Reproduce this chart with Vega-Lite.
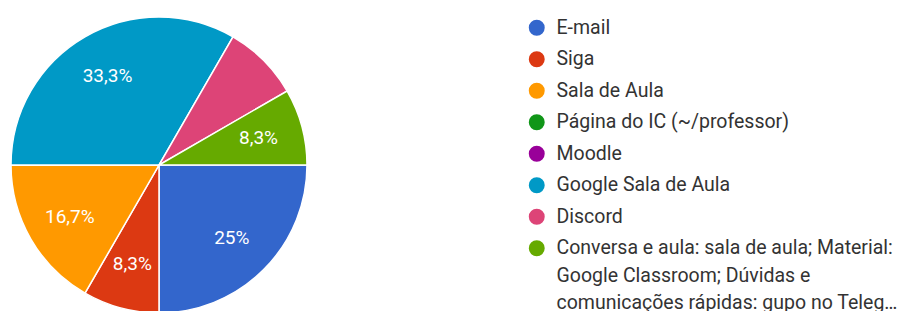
{
  "$schema": "https://vega.github.io/schema/vega-lite/v6.json",
  "width": 296,
  "height": 296,
  "autosize": "none",
  "padding": {"left": 11, "top": 17, "right": 601, "bottom": 0},
  "background": "white",
  "config": {"view": {"stroke": null}, "font": "Roboto", "style": {"guide-label": {"lineHeight": 27.5}}},
  "data": {
    "values": [
      {"cat": "E-mail", "n": 3, "ord": 1, "label": "25%"},
      {"cat": "Siga", "n": 1, "ord": 2, "label": "8,3%"},
      {"cat": "Sala de Aula", "n": 2, "ord": 3, "label": "16,7%"},
      {"cat": "Página do IC (~/professor)", "n": 0, "ord": 4, "label": ""},
      {"cat": "Moodle", "n": 0, "ord": 5, "label": ""},
      {"cat": "Google Sala de Aula", "n": 4, "ord": 6, "label": "33,3%"},
      {"cat": "Discord", "n": 1, "ord": 7, "label": ""},
      {"cat": "Conversa e aula: sala de aula; Material: Google Classroom; Dúvidas e comunicações rápidas: gupo no Teleg…", "n": 1, "ord": 8, "label": "8,3%"}
    ]
  },
  "encoding": {
    "theta": {"field": "n", "type": "quantitative", "stack": true, "scale": {"range": [1.5707963, 7.8539816]}},
    "order": {"field": "ord", "type": "quantitative"}
  },
  "layer": [
    {
      "mark": {"type": "arc", "outerRadius": 148, "stroke": "white", "strokeWidth": 1.5},
      "encoding": {
        "color": {
          "field": "cat",
          "type": "nominal",
          "sort": null,
          "scale": {
            "domain": ["E-mail", "Siga", "Sala de Aula", "Página do IC (~/professor)", "Moodle", "Google Sala de Aula", "Discord", "Conversa e aula: sala de aula; Material: Google Classroom; Dúvidas e comunicações rápidas: gupo no Teleg…"],
            "range": ["#3366cc", "#dc3912", "#ff9900", "#109618", "#990099", "#0099c6", "#dd4477", "#66aa00"]
          },
          "legend": {
            "title": null,
            "orient": "none",
            "legendX": 516,
            "legendY": 1,
            "symbolType": "circle",
            "symbolSize": 254,
            "symbolStrokeWidth": 0,
            "labelFontSize": 19.5,
            "labelColor": "#333333",
            "labelOffset": 10,
            "rowPadding": 10.5,
            "labelLimit": 400,
            "padding": 0,
            "labelExpr": "datum.label == 'Conversa e aula: sala de aula; Material: Google Classroom; Dúvidas e comunicações rápidas: gupo no Teleg…' ? ['Conversa e aula: sala de aula; Material:', 'Google Classroom; Dúvidas e', 'comunicações rápidas: gupo no Teleg…'] : datum.label"
          }
        }
      }
    },
    {
      "mark": {"type": "text", "radius": 103, "fontSize": 19, "color": "white"},
      "encoding": {"text": {"field": "label"}}
    }
  ]
}
